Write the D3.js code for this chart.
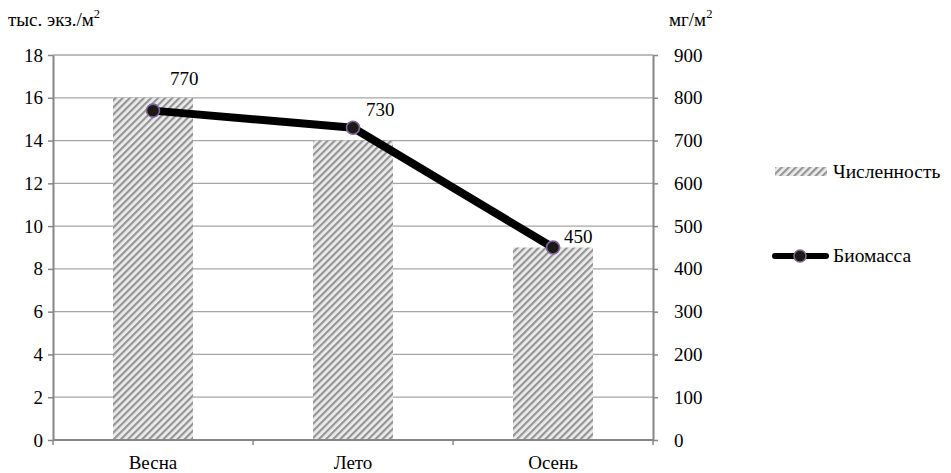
<!DOCTYPE html>
<html>
<head>
<meta charset="utf-8">
<script src="https://cdn.jsdelivr.net/npm/d3@7"></script>
<style>
  html, body { margin: 0; padding: 0; background: #fff; }
</style>
</head>
<body>
<svg id="chart" width="951" height="473" font-family="Liberation Serif, DejaVu Serif, serif"></svg>
<script>
// Seasons and the two measured series
const seasons = ["Весна", "Лето", "Осень"];
const abundance = [16, 14, 9];          // тыс. экз./м²
const biomass = [770, 730, 450];        // мг/м²
const leftTicks = [0, 2, 4, 6, 8, 10, 12, 14, 16, 18];
const rightTicks = [0, 100, 200, 300, 400, 500, 600, 700, 800, 900];
const seriesNames = ["Численность", "Биомасса"];

// Hand-placed offsets of the biomass value labels (dx, dy from the point)
const labelOffsets = [[17, -26], [13, -12], [11, -5]];

const serif = "'Liberation Serif', 'DejaVu Serif', serif";
const svg = d3.select("#chart");
const m = { left: 53, right: 653, top: 55, bottom: 440 };
const fontSize = 19;

const x = d3.scaleBand().domain(seasons).range([m.left, m.right]).paddingInner(0.6).paddingOuter(0.3);
const yL = d3.scaleLinear().domain([0, 18]).range([m.bottom, m.top]);
const yR = d3.scaleLinear().domain([0, 900]).range([m.bottom, m.top]);

// Diagonal hatch fill
const defs = svg.append("defs");
const pat = defs.append("pattern")
  .attr("id", "hatch").attr("patternUnits", "userSpaceOnUse")
  .attr("width", 5).attr("height", 5)
  .attr("patternTransform", "rotate(45)");
pat.append("rect").attr("width", 5).attr("height", 5).attr("fill", "#ececec");
pat.append("rect").attr("width", 2.2).attr("height", 5).attr("fill", "#959595");

// Horizontal gridlines
svg.append("g").selectAll("line").data(leftTicks.filter(d => d > 0)).join("line")
  .attr("x1", m.left).attr("x2", m.right)
  .attr("y1", d => yL(d)).attr("y2", d => yL(d))
  .attr("stroke", "#a6a6a6").attr("stroke-width", 1.3);

// Bars
svg.append("g").selectAll("rect").data(seasons).join("rect")
  .attr("x", d => x(d)).attr("width", x.bandwidth())
  .attr("y", (d, i) => yL(abundance[i]))
  .attr("height", (d, i) => yL(0) - yL(abundance[i]))
  .attr("fill", "url(#hatch)");

// Axes
const axisStyle = g => {
  g.attr("font-family", serif);
  g.selectAll(".domain").attr("stroke", "#868686").attr("stroke-width", 2);
  g.selectAll(".tick line").attr("stroke", "#868686").attr("stroke-width", 1.5);
  g.selectAll("text").attr("font-size", fontSize).attr("fill", "#000");
};

svg.append("g").attr("transform", `translate(${m.left},0)`)
  .call(d3.axisLeft(yL).tickValues(leftTicks).tickSize(5).tickSizeOuter(0).tickPadding(5))
  .call(axisStyle);

svg.append("g").attr("transform", `translate(${m.right},0)`)
  .call(d3.axisRight(yR).tickValues(rightTicks).tickSize(5).tickSizeOuter(0).tickPadding(16))
  .call(axisStyle)
  .call(g => g.selectAll("text").attr("text-anchor", "start"));

// Category axis: labels under bars, ticks at band boundaries
const xAxis = svg.append("g").attr("transform", `translate(0,${m.bottom})`);
xAxis.append("line").attr("x1", m.left).attr("x2", m.right)
  .attr("stroke", "#868686").attr("stroke-width", 2);
const step = (m.right - m.left) / seasons.length;
xAxis.selectAll("line.tk").data(d3.range(seasons.length + 1)).join("line").attr("class", "tk")
  .attr("x1", i => m.left + i * step).attr("x2", i => m.left + i * step)
  .attr("y1", 0).attr("y2", 5)
  .attr("stroke", "#868686").attr("stroke-width", 1.5);
xAxis.selectAll("text").data(seasons).join("text")
  .attr("x", d => x(d) + x.bandwidth() / 2).attr("y", 29)
  .attr("text-anchor", "middle").attr("font-size", fontSize).text(d => d);

// Biomass line with markers
const pts = seasons.map((s, i) => [x(s) + x.bandwidth() / 2, yR(biomass[i])]);
svg.append("path").datum(pts)
  .attr("d", d3.line())
  .attr("fill", "none").attr("stroke", "#000").attr("stroke-width", 8)
  .attr("stroke-linejoin", "round").attr("stroke-linecap", "round");
svg.append("g").selectAll("circle").data(pts).join("circle")
  .attr("cx", d => d[0]).attr("cy", d => d[1]).attr("r", 6.5)
  .attr("fill", "#1c1a15").attr("stroke", "#8064a2").attr("stroke-width", 1.6);

// Value labels
svg.append("g").selectAll("text").data(pts).join("text")
  .attr("x", (d, i) => d[0] + labelOffsets[i][0])
  .attr("y", (d, i) => d[1] + labelOffsets[i][1])
  .attr("font-size", fontSize).text((d, i) => biomass[i]);

// Axis titles with superscript
const title = (xp, yp, base) => {
  const t = svg.append("text").attr("x", xp).attr("y", yp).attr("font-size", 19);
  t.append("tspan").text(base);
  t.append("tspan").attr("dy", -8).attr("font-size", 12.5).text("2");
};
title(8, 26, "тыс. экз./м");
title(669, 26, "мг/м");

// Legend
const lg = svg.append("g");
lg.append("rect").attr("x", 775).attr("y", 167).attr("width", 52).attr("height", 9).attr("fill", "url(#hatch)");
lg.append("text").attr("x", 833).attr("y", 178).attr("font-size", 19.5).text(seriesNames[0]);
lg.append("line").attr("x1", 775).attr("x2", 826).attr("y1", 256).attr("y2", 256)
  .attr("stroke", "#000").attr("stroke-width", 6).attr("stroke-linecap", "round");
lg.append("circle").attr("cx", 800).attr("cy", 256).attr("r", 6)
  .attr("fill", "#1c1a15").attr("stroke", "#8064a2").attr("stroke-width", 1.6);
lg.append("text").attr("x", 833).attr("y", 262).attr("font-size", 19.5).text(seriesNames[1]);

// Serif face on every label
svg.selectAll("text").style("font-family", serif);
</script>
</body>
</html>
